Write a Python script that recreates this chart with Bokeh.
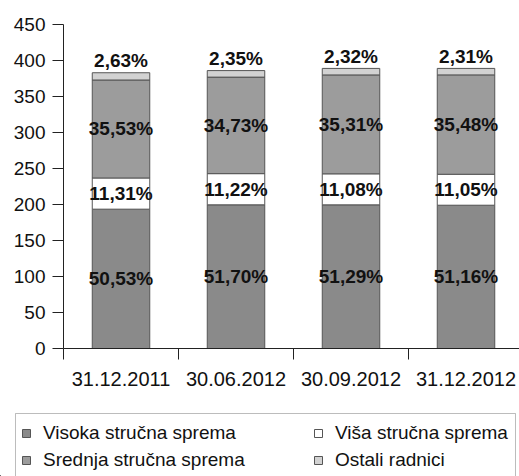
from bokeh.plotting import figure
from bokeh.layouts import column
from bokeh.models import (ColumnDataSource, Range1d, FixedTicker, Legend,
                          LegendItem, BoxAnnotation)
from bokeh.core.properties import value
from bokeh.embed import file_html
from bokeh.resources import INLINE

categories = ["31.12.2011", "30.06.2012", "30.09.2012", "31.12.2012"]
totals = [383, 386, 389, 389]
visoka_pct = [50.53, 51.70, 51.29, 51.16]
visa_pct = [11.31, 11.22, 11.08, 11.05]
srednja_pct = [35.53, 34.73, 35.31, 35.48]
ostali_pct = [2.63, 2.35, 2.32, 2.31]
series_names = ["Visoka stručna sprema", "Viša stručna sprema",
                "Srednja stručna sprema", "Ostali radnici"]
colors = ["#8a8a8a", "#ffffff", "#9c9c9c", "#d2d2d2"]
y_ticks = [0, 50, 100, 150, 200, 250, 300, 350, 400, 450]

FONT = "Liberation Sans"
xs = list(range(1, len(categories) + 1))
pcts = [visoka_pct, visa_pct, srednja_pct, ostali_pct]
keys = ["s0", "s1", "s2", "s3"]
data = {"x": xs}
for k, pc in zip(keys, pcts):
    data[k] = [t * p / 100.0 for t, p in zip(totals, pc)]
source = ColumnDataSource(data)

p = figure(width=519, height=412, output_backend="svg", toolbar_location=None,
           x_range=Range1d(0.5, 0.5 + 456 / 115.0), y_range=Range1d(0, 450),
           min_border_left=63, min_border_top=24, min_border_bottom=64,
           min_border_right=0)
p.frame_align = False
p.outline_line_color = None
p.xgrid.grid_line_color = None
p.ygrid.grid_line_color = None
p.background_fill_color = "white"
p.border_fill_color = "white"

renderers = p.vbar_stack(keys, x="x", width=0.5, source=source,
                         fill_color=colors, line_color="#555555", line_width=1)

# labels
cum = [0.0] * len(xs)
lab_x, lab_y, lab_t, lab_off = [], [], [], []
for si, (k, pc) in enumerate(zip(keys, pcts)):
    for i in range(len(xs)):
        h = data[k][i]
        if si < 3:
            lab_y.append(cum[i] + h / 2.0)
            lab_off.append(0)
        else:
            lab_y.append(cum[i] + h)
            lab_off.append(-12)
        lab_x.append(xs[i])
        lab_t.append(f"{pc[i]:.2f}".replace(".", ",") + "%")
        cum[i] += h
lsrc = ColumnDataSource(dict(x=lab_x, y=lab_y, t=lab_t, off=lab_off))
p.text(x="x", y="y", text="t", y_offset="off", source=lsrc,
       text_align="center", text_baseline="middle",
       text_font=value(FONT), text_font_size="19px", text_font_style="bold",
       text_color="#111111")

# y axis
ya = p.yaxis[0]
ya.ticker = FixedTicker(ticks=y_ticks)
ya.major_tick_in = 0
ya.major_tick_out = 11
ya.minor_tick_line_color = None
ya.major_label_standoff = 7
ya.major_label_text_font = FONT
ya.major_label_text_font_size = "19px"
ya.major_label_text_color = "#111111"
ya.axis_line_color = "#222222"
ya.major_tick_line_color = "#222222"

# x axis
xa = p.xaxis[0]
xa.ticker = FixedTicker(ticks=xs, minor_ticks=[0.5, 1.5, 2.5, 3.5, 4.5])
xa.major_label_overrides = {x: c for x, c in zip(xs, categories)}
xa.major_tick_in = 0
xa.major_tick_out = 0
xa.minor_tick_in = 0
xa.minor_tick_out = 11
xa.minor_tick_line_color = "#222222"
xa.major_label_standoff = 12
xa.major_label_text_font = FONT
xa.major_label_text_font_size = "20px"
xa.major_label_text_color = "#111111"
xa.axis_line_color = "#222222"

# legend figure: pixel-scaled ranges, keys use off-range proxies of the same styles
lf = figure(width=519, height=64, output_backend="svg", toolbar_location=None,
            x_range=Range1d(0, 519), y_range=Range1d(0, 64),
            min_border_left=0, min_border_right=0, min_border_top=0,
            min_border_bottom=0, min_border=0)
lf.frame_align = False
lf.axis.visible = False
lf.grid.visible = False
lf.outline_line_color = None
leg_renderers = [lf.vbar(x=[-100], top=[1], width=0.5, fill_color=c,
                         line_color="#555555", line_width=1) for c in colors]
lf.add_layout(BoxAnnotation(left=15, right=515, top=63, bottom=-20,
                            fill_alpha=0.0, line_color="#222222",
                            line_width=1))
common = dict(label_text_font=FONT, label_text_font_size="19px",
              label_text_color="#111111", glyph_width=10, glyph_height=10,
              label_standoff=12, label_height=25, spacing=2, padding=6, margin=0,
              border_line_color=None, background_fill_alpha=0.0)
left_items = [LegendItem(label=series_names[i], renderers=[leg_renderers[i]]) for i in (0, 2)]
right_items = [LegendItem(label=series_names[i], renderers=[leg_renderers[i]]) for i in (1, 3)]
legend1 = Legend(items=left_items, orientation="vertical", location=(21, 4),
                 label_width=200, **common)
legend2 = Legend(items=right_items, orientation="vertical", location=(313, 4),
                 label_width=150, **common)
lf.add_layout(legend1, "center")
lf.add_layout(legend2, "center")

layout = column(p, lf, spacing=0)
open("out.html", "w").write(file_html(layout, INLINE))
